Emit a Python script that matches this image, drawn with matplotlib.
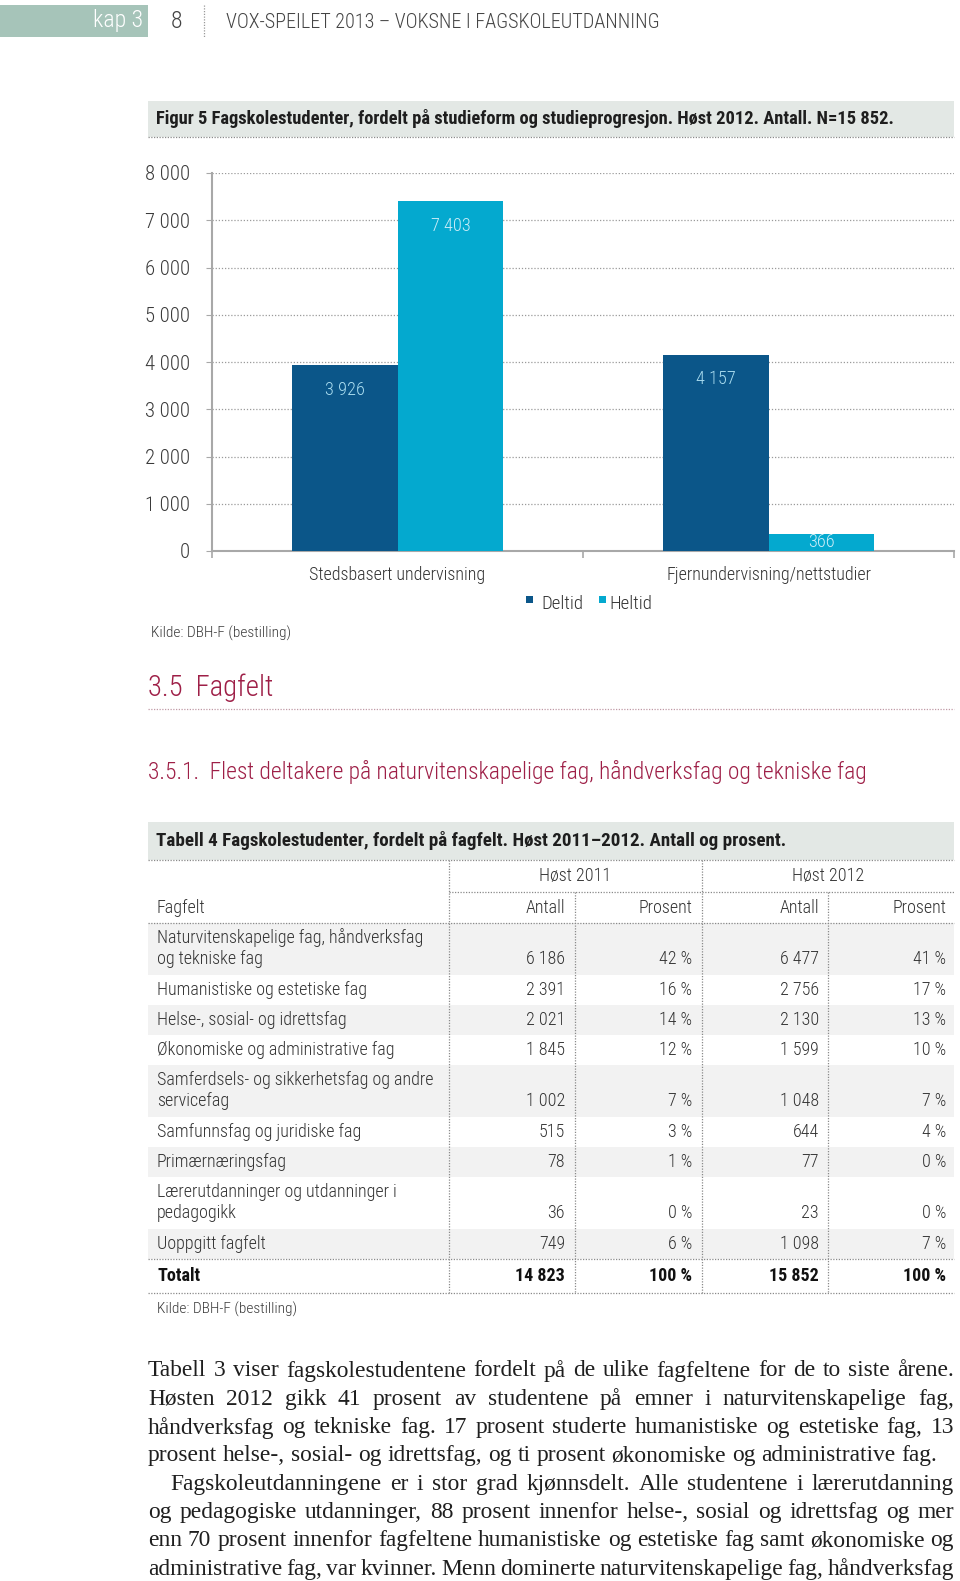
import os
import numpy as np
import matplotlib
matplotlib.use("Agg")
import matplotlib.pyplot as plt
from matplotlib import font_manager
from matplotlib.font_manager import FontProperties
from matplotlib.patches import Rectangle

# ---------------- data ----------------
categories = ["Stedsbasert undervisning", "Fjernundervisning/nettstudier"]
series_names = ["Deltid", "Heltid"]
deltid = [3926, 4157]
heltid = [7403, 366]
y_ticks = [0, 1000, 2000, 3000, 4000, 5000, 6000, 7000, 8000]

fagfelt = [
    "Naturvitenskapelige fag, håndverksfag\nog tekniske fag",
    "Humanistiske og estetiske fag",
    "Helse-, sosial- og idrettsfag",
    "Økonomiske og administrative fag",
    "Samferdsels- og sikkerhetsfag og andre\nservicefag",
    "Samfunnsfag og juridiske fag",
    "Primærnæringsfag",
    "Lærerutdanninger og utdanninger i\npedagogikk",
    "Uoppgitt fagfelt",
]
antall_2011 = [6186, 2391, 2021, 1845, 1002, 515, 78, 36, 749]
prosent_2011 = [42, 16, 14, 12, 7, 3, 1, 0, 6]
antall_2012 = [6477, 2756, 2130, 1599, 1048, 644, 77, 23, 1098]
prosent_2012 = [41, 17, 13, 10, 7, 4, 0, 0, 7]
totalt_2011 = 14823
totalt_2012 = 15852

body_lines = [
    "Tabell 3 viser fagskolestudentene fordelt på de ulike fagfeltene for de to siste årene.",
    "Høsten 2012 gikk 41 prosent av studentene på emner i naturvitenskapelige fag,",
    "håndverksfag og tekniske fag. 17 prosent studerte humanistiske og estetiske fag, 13",
    "prosent helse-, sosial- og idrettsfag, og ti prosent økonomiske og administrative fag.",
    "Fagskoleutdanningene er i stor grad kjønnsdelt. Alle studentene i lærerutdanning",
    "og pedagogiske utdanninger, 88 prosent innenfor helse-, sosial og idrettsfag og mer",
    "enn 70 prosent innenfor fagfeltene humanistiske og estetiske fag samt økonomiske og",
    "administrative fag, var kvinner. Menn dominerte naturvitenskapelige fag, håndverksfag",
]

# ---------------- fonts ----------------
files = {os.path.basename(f.fname).lower(): f.fname for f in font_manager.fontManager.ttflist}


def pick(cands):
    for c in cands:
        if c in files:
            return files[c]
    return None


REG = pick(["robotocondensed-light.ttf", "notosans-condensedlight.ttf", "robotocondensed-regular.ttf",
            "notosans-condensed.ttf", "liberationsansnarrow-regular.ttf", "dejavusanscondensed.ttf"])
BOLD = pick(["robotocondensed-bold.ttf", "notosans-condensedsemibold.ttf", "notosans-condensedbold.ttf",
             "liberationsansnarrow-bold.ttf", "dejavusanscondensed-bold.ttf"])
SERIF = "Liberation Serif"


def fp(size, bold=False):
    f = BOLD if bold else REG
    if f:
        return FontProperties(fname=f, size=size)
    return FontProperties(family="Liberation Sans", weight="bold" if bold else "normal", size=size)


DARK = "#0b5689"
LIGHT = "#04a9cf"
CRIMSON = "#9e1f47"
GREYTXT = "#333333"
BOXC = "#e3e8e5"


def fmt(v):
    return f"{v:,}".replace(",", " ")


W, H = 960, 1581
fig = plt.figure(figsize=(W / 100, H / 100), dpi=100)
fig.patch.set_facecolor("white")
ov = fig.add_axes([0, 0, 1, 1])
ov.set_xlim(0, W)
ov.set_ylim(H, 0)
ov.axis("off")
renderer = fig.canvas.get_renderer()


def fit_size(s, size, target_w, bold=False):
    t = ov.text(0, 0, s, fontproperties=fp(size, bold))
    w = t.get_window_extent(renderer).width
    t.remove()
    return size * target_w / w


def txt(x, y, s, size, target_w=None, bold=False, serif=False, **kw):
    kw.setdefault("va", "center")
    kw.setdefault("color", GREYTXT)
    if serif:
        t = ov.text(x, y, s, fontsize=size, family=SERIF, **kw)
    else:
        t = ov.text(x, y, s, fontproperties=fp(size, bold), **kw)
    if target_w:
        w = t.get_window_extent(renderer).width
        t.set_fontsize(size * target_w / w)
    return t


def dotted_h(x0, x1, y, color="#8a8a8a", lw=0.9):
    ov.plot([x0, x1], [y, y], ls=(0, (1, 1.2)), color=color, lw=lw)


def dotted_v(x, y0, y1, color="#8a8a8a", lw=0.9):
    ov.plot([x, x], [y0, y1], ls=(0, (1, 1.2)), color=color, lw=lw)


# ---------------- header ----------------
HS = fit_size("VOX-SPEILET 2013 – VOKSNE I FAGSKOLEUTDANNING", 15, 436)
KS = fit_size("kap 3", 15, 50)
ov.add_patch(Rectangle((0, 5), 148, 32, color="#a6c4b9", lw=0))
txt(143, 21, "kap 3", KS, ha="right", color="white")
txt(176, 21, "8", KS, ha="center", color="#444444")
dotted_v(204, 5, 37, color="#999999")
txt(226, 22, "VOX-SPEILET 2013 – VOKSNE I FAGSKOLEUTDANNING", HS, color="#444444")

# figure title box
ov.add_patch(Rectangle((148, 101), 806, 36, color=BOXC, lw=0))
dotted_h(148, 954, 137)
txt(156, 118, "Figur 5 Fagskolestudenter, fordelt på studieform og studieprogresjon. Høst 2012. Antall. N=15 852.",
    12, target_w=740, bold=True, color="#1e1e1e")

# ---------------- bar chart ----------------
ax_l, ax_r, ax_t, ax_b = 212, 954, 173, 551
ax = fig.add_axes([ax_l / W, 1 - ax_b / H, (ax_r - ax_l) / W, (ax_b - ax_t) / H])
x = np.arange(len(categories))
bw = 0.2857
ax.bar(x - bw / 2, deltid, bw, color=DARK, zorder=3, label=series_names[0])
ax.bar(x + bw / 2, heltid, bw, color=LIGHT, zorder=3, label=series_names[1])
ax.set_xlim(-0.5, 1.5)
ax.set_ylim(0, 8000)
TICK_S = fit_size("8 000", 12, 45)
ax.set_yticks(y_ticks)
ax.set_yticklabels([fmt(v) for v in y_ticks], fontproperties=fp(TICK_S), color="#3a3a3a")
ax.yaxis.grid(True, ls=(0, (1, 1.5)), color="#9a9a9a", lw=0.9, zorder=0)
ax.set_axisbelow(True)
for s in ["top", "right"]:
    ax.spines[s].set_visible(False)
for s in ["left", "bottom"]:
    ax.spines[s].set_color("#a8a8a8")
    ax.spines[s].set_linewidth(1.5)
ax.tick_params(axis="y", length=4, color="#a8a8a8", pad=12)
ax.set_xticks([-0.5, 0.5, 1.5])
ax.set_xticklabels(["", "", ""])
ax.tick_params(axis="x", which="major", length=5, color="#a8a8a8", width=1.2)
CAT_S = fit_size(categories[0], 12, 178)
ax.set_xticks(x, minor=True)
ax.set_xticklabels(categories, minor=True, fontproperties=fp(CAT_S), color="#333333")
ax.tick_params(axis="x", which="minor", length=0, pad=11)
ax.set_facecolor("none")

VAL_S = fit_size("7 403", 12, 40)
for xi, v in zip(x - bw / 2, deltid):
    yy = v - 515 if v - 515 > v / 2 else v / 2
    ax.text(xi, yy, fmt(v), ha="center", va="center", fontproperties=fp(VAL_S), color="#a9dcef", zorder=4)
for xi, v in zip(x + bw / 2, heltid):
    yy = v - 515 if v - 515 > v / 2 else v / 2
    ax.text(xi, yy, fmt(v), ha="center", va="center", fontproperties=fp(VAL_S), color="#c9ecf7", zorder=4)

# legend
LEG_S = fit_size("Deltid", 12, 42)
ov.add_patch(Rectangle((526, 596), 7, 7, color=DARK, lw=0))
txt(541, 604, series_names[0], LEG_S)
ov.add_patch(Rectangle((599, 596), 7, 7, color=LIGHT, lw=0))
txt(609, 604, series_names[1], LEG_S)
KIL_S = fit_size("Kilde: DBH-F (bestilling)", 10, 140)
txt(151, 633, "Kilde: DBH-F (bestilling)", KIL_S, color="#3a3a3a")

# ---------------- section headings ----------------
txt(148, 688, "3.5  Fagfelt", 22, target_w=125, color=CRIMSON)
dotted_h(148, 954, 709, color="#c09aa6")
txt(148, 772, "3.5.1.  Flest deltakere på naturvitenskapelige fag, håndverksfag og tekniske fag", 16,
    target_w=717, color=CRIMSON)

# ---------------- table ----------------
ov.add_patch(Rectangle((148, 822), 806, 38, color=BOXC, lw=0))
dotted_h(148, 954, 860)
txt(156, 841, "Tabell 4 Fagskolestudenter, fordelt på fagfelt. Høst 2011–2012. Antall og prosent.", 12,
    target_w=629, bold=True, color="#1e1e1e")

c_l, c1, c2, c3, c4, c_r = 148, 449, 575, 702, 828, 954
r_a = [565, 692, 819, 946]
TS = fit_size("Naturvitenskapelige fag, håndverksfag", 12, 268)

txt((c1 + c3) / 2, 876, "Høst 2011", TS, ha="center")
txt((c3 + c_r) / 2, 876, "Høst 2012", TS, ha="center")
dotted_h(c1, c_r, 892)
txt(157, 908, "Fagfelt", TS)
for xr, lab in zip(r_a, ["Antall", "Prosent", "Antall", "Prosent"]):
    txt(xr, 908, lab, TS, ha="right")
dotted_h(c_l, c_r, 923)

y = 923
for i, lab in enumerate(fagfelt):
    two = "\n" in lab
    h = 52 if two else 30
    if i % 2 == 0:
        ov.add_patch(Rectangle((c_l, y), c_r - c_l, h, color="#f2f2f2", lw=0, zorder=0))
    if two:
        l1, l2 = lab.split("\n")
        txt(157, y + 15, l1, TS)
        txt(157, y + 36, l2, TS)
        ny = y + 36
    else:
        txt(157, y + h / 2, lab, TS)
        ny = y + h / 2
    vals = [fmt(antall_2011[i]), f"{prosent_2011[i]} %", fmt(antall_2012[i]), f"{prosent_2012[i]} %"]
    for xr, v in zip(r_a, vals):
        txt(xr, ny, v, TS, ha="right")
    y += h
dotted_h(c_l, c_r, y)
ty = y + 17
txt(157, ty, "Totalt", TS, bold=True, color="#111111")
for xr, v in zip(r_a, [fmt(totalt_2011), "100 %", fmt(totalt_2012), "100 %"]):
    txt(xr, ty, v, TS, ha="right", bold=True, color="#111111")
y_end = y + 34
dotted_h(c_l, c_r, y_end)
dotted_v(c1, 860, y_end)
dotted_v(c3, 860, y_end)
dotted_v(c2, 892, y_end)
dotted_v(c4, 892, y_end)
txt(157, y_end + 16, "Kilde: DBH-F (bestilling)", KIL_S, color="#3a3a3a")

# ---------------- body text (justified) ----------------
x0, x1 = 148, 954
probe = ov.text(0, 0, body_lines[3], fontsize=14, family=SERIF)
BS = 14 * 795 / probe.get_window_extent(renderer).width
probe.remove()
sp1 = ov.text(0, 0, "a a", fontsize=BS, family=SERIF)
sp2 = ov.text(0, 0, "aa", fontsize=BS, family=SERIF)
space_w = sp1.get_window_extent(renderer).width - sp2.get_window_extent(renderer).width
sp1.remove()
sp2.remove()


def justify(line, yy, indent=0, last=False):
    words = line.split()
    ts = [txt(0, yy, w, BS, serif=True, color="#1f1f1f") for w in words]
    widths = [t.get_window_extent(renderer).width for t in ts]
    gap = space_w if last else (x1 - x0 - indent - sum(widths)) / (len(words) - 1)
    xx = x0 + indent
    for t, w in zip(ts, widths):
        t.set_x(xx)
        xx += w + gap


for i, line in enumerate(body_lines):
    yy = 1371 + i * 28.3
    justify(line, yy, indent=22 if i == 4 else 0, last=(i == 3))

fig.savefig("out.png", dpi=100)
